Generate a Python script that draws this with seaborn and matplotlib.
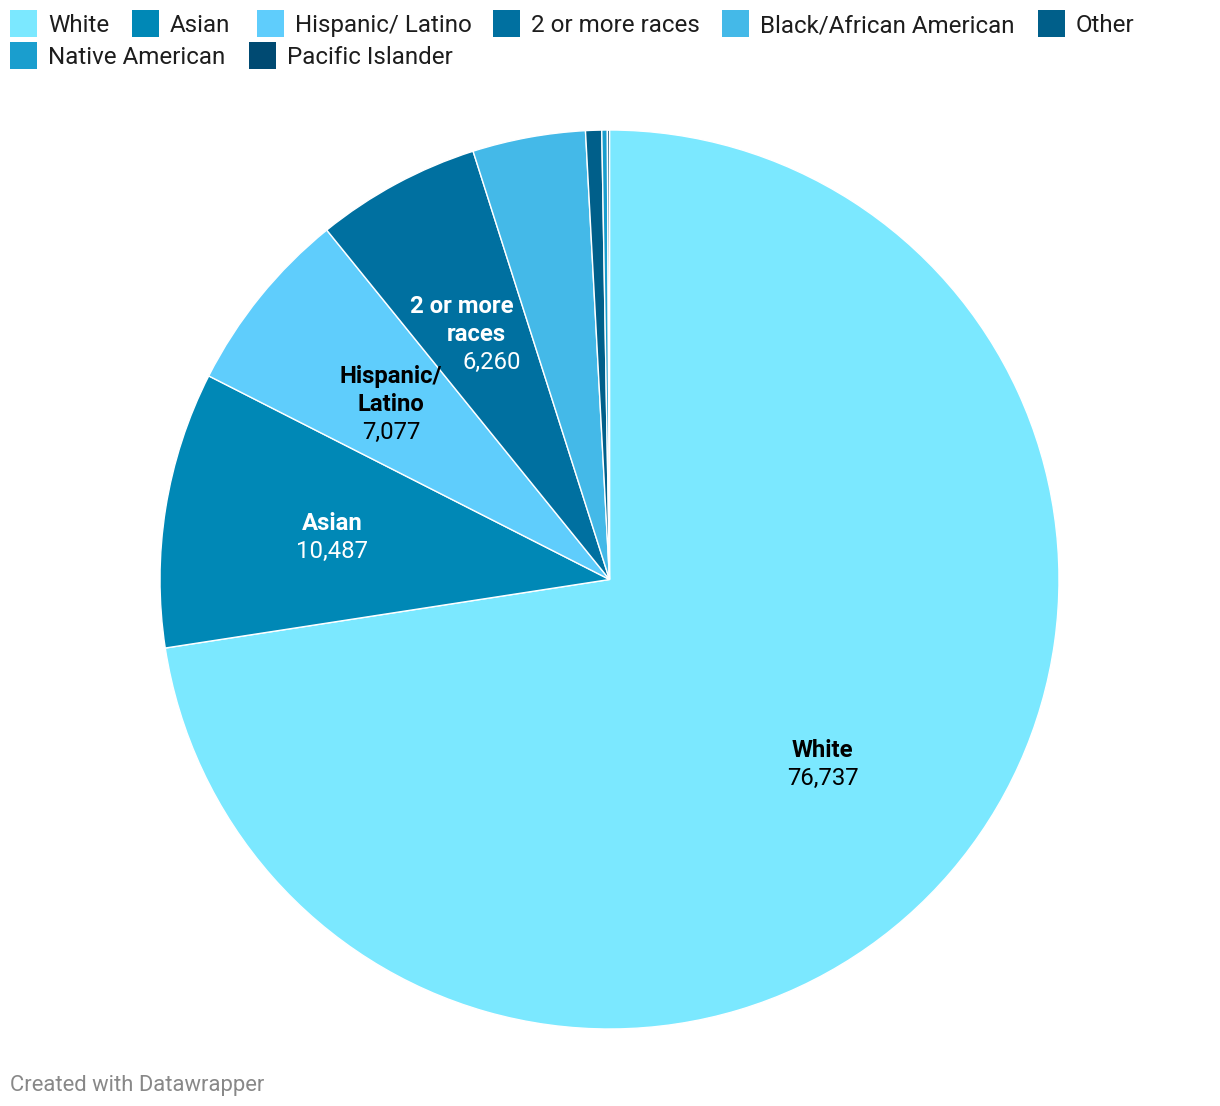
import numpy as np
import matplotlib
matplotlib.use("Agg")
import matplotlib.pyplot as plt
import seaborn as sns
from matplotlib.patches import Rectangle

categories = ["White", "Asian", "Hispanic/ Latino", "2 or more races",
              "Black/African American", "Other", "Native American", "Pacific Islander"]
values = [76737, 10487, 7077, 6260, 4290, 610, 210, 80]
value_labels = ["76,737", "10,487", "7,077", "6,260"]
slice_names = [["White"], ["Asian"], ["Hispanic/", "Latino"], ["2 or more", "races"]]
label_colors = ["#000000", "#ffffff", "#000000", "#ffffff"]
colors = ["#7BE8FF", "#0088B6", "#5FCDFC", "#0070A0",
          "#44B9E8", "#005F8A", "#1A9ECE", "#004A72"]

sns.set_theme(style="white")
plt.rcParams['font.family'] = ['Roboto', 'DejaVu Sans']

W, H = 1220, 1106
fig = plt.figure(figsize=(W / 100, H / 100), dpi=100)
palette = sns.color_palette(colors)

cx, cy, R = 609.5, 579.5, 449.5
ax = fig.add_axes([(cx - R) / W, (H - cy - R) / H, 2 * R / W, 2 * R / H])
wedges, _ = ax.pie(values, colors=palette, startangle=90, counterclock=False,
                   wedgeprops=dict(edgecolor="white", linewidth=1.0, antialiased=True))
ax.set_xlim(-1, 1)
ax.set_ylim(-1, 1)
ax.set_aspect("equal")
ax.axis("off")

# slice labels
line_pt = 28 * 0.72
shift_pt = -2 * 0.72
# per-line horizontal nudges (px) used by the "2 or more races" label
x_nudge = {3: [-14, 0, 16]}
for i, names in enumerate(slice_names):
    w = wedges[i]
    mid = np.deg2rad((w.theta1 + w.theta2) / 2)
    x, y = 0.625 * np.cos(mid), 0.625 * np.sin(mid)
    lines = [(n, "bold") for n in names] + [(value_labels[i], "normal")]
    n = len(lines)
    for j, (txt, wt) in enumerate(lines):
        off = ((n - 1) / 2 - j) * line_pt + shift_pt
        dx = x_nudge.get(i, [0] * n)[j] * 0.72
        ax.annotate(txt, (x, y), xytext=(dx, off), textcoords="offset points",
                    ha="center", va="center", fontsize=17.2, fontweight=wt,
                    color=label_colors[i])

# legend (manual, Datawrapper-style flow layout)
leg_pos = [(10, 23.5), (132, 23.5), (257, 23.5), (493, 23.5), (722, 23.5), (1038, 23.5),
           (10, 55.5), (249, 55.5)]
sq = 27
for i, (lx, ly) in enumerate(leg_pos):
    fig.patches.append(Rectangle((lx / W, (H - ly - sq / 2) / H), sq / W, sq / H,
                                 transform=fig.transFigure, facecolor=colors[i],
                                 edgecolor="none"))
    fig.text((lx + sq + 11) / W, (H - ly - 2) / H, categories[i], ha="left", va="center",
             fontsize=17.4, color="#1d1d1d")

fig.text(10 / W, (H - 1085) / H, "Created with Datawrapper", ha="left", va="center",
         fontsize=15.8, color="#888888")

fig.savefig("out.png", dpi=100, facecolor="white")
